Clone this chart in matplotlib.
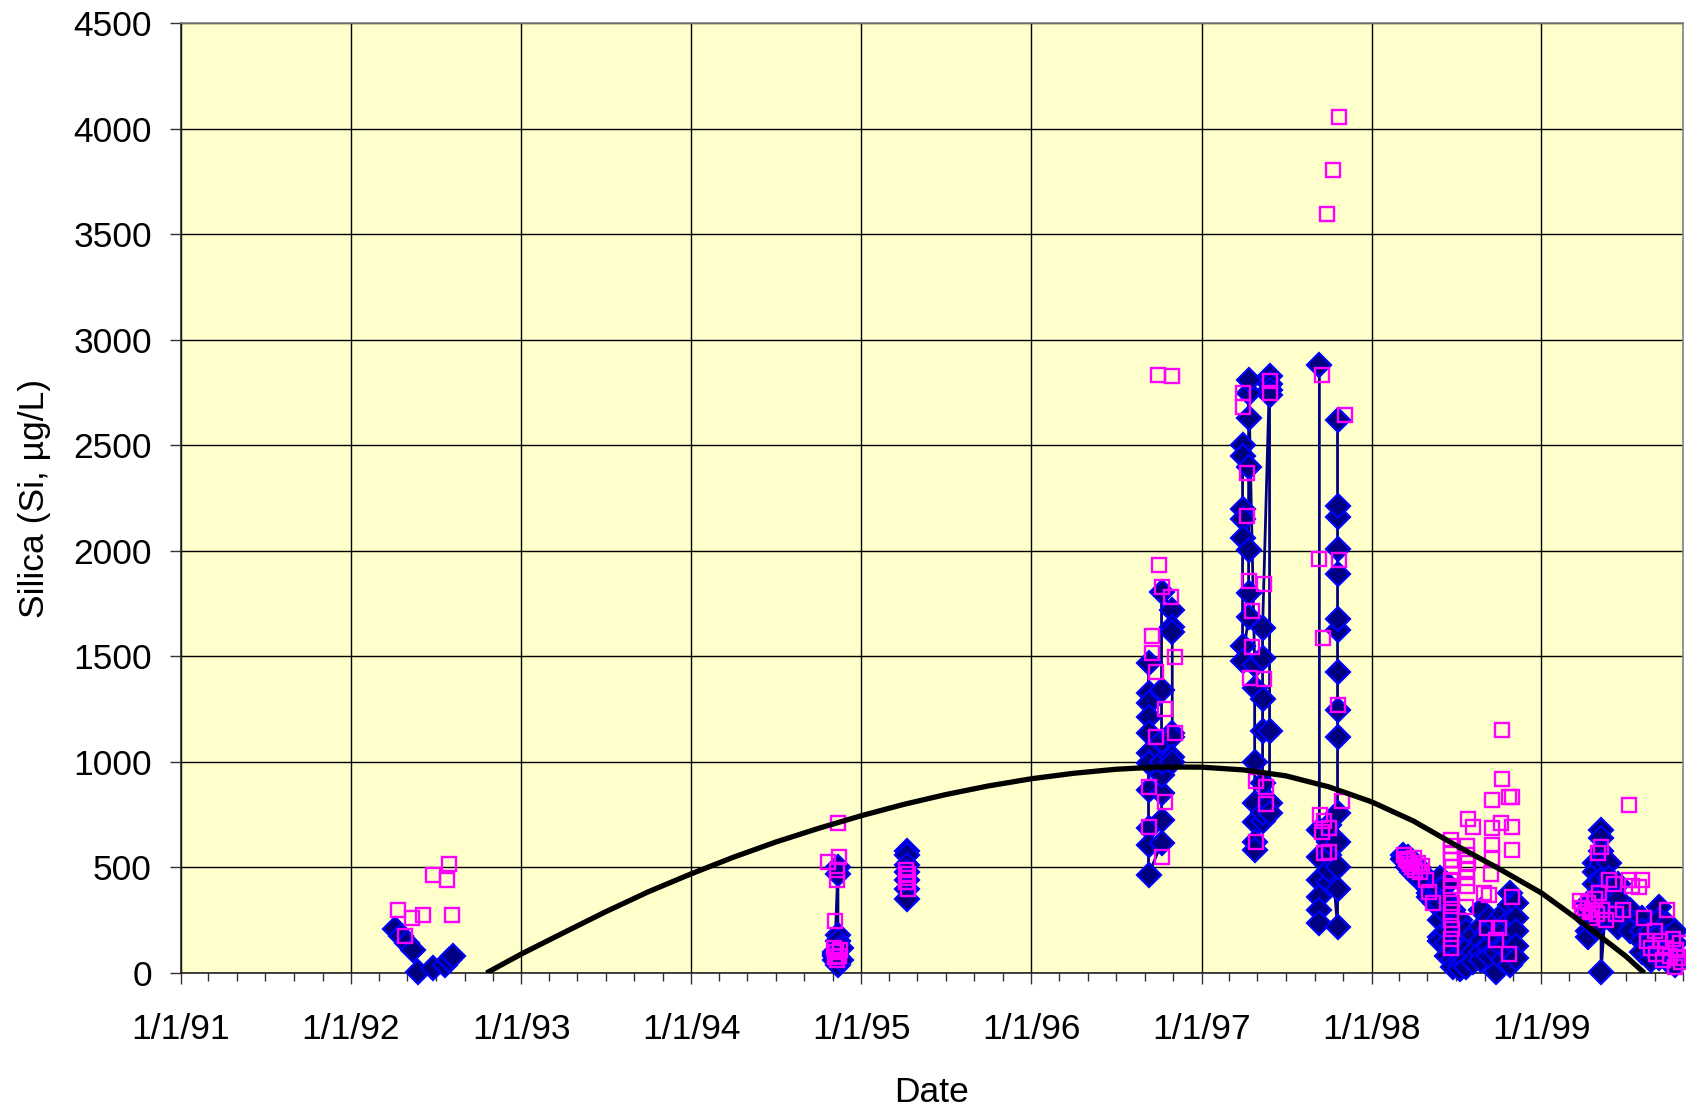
import matplotlib
matplotlib.use("Agg")
import matplotlib.pyplot as plt
import matplotlib.dates as mdates
from matplotlib.ticker import FuncFormatter, MultipleLocator
import pandas as pd

# --- data --------------------------------------------------------------
# blue diamond series: one entry per sampling date (several depths each);
# consecutive profiles inside the same group are joined by the line.
blue_profile_dates = [
    "1992-04-04", "1992-04-17", "1992-04-30", "1992-05-14", "1992-05-24",
    "1992-06-25", "1992-07-22", "1992-07-30", "1992-08-08",
    "1994-11-05", "1994-11-12", "1994-11-18",
    "1995-04-10",
    "1996-09-09", "1996-10-07", "1996-10-30",
    "1997-03-30", "1997-04-12", "1997-04-25", "1997-05-12", "1997-05-27",
    "1997-09-11", "1997-10-02", "1997-10-20",
    "1998-03-10", "1998-03-20", "1998-03-30", "1998-04-10", "1998-04-22",
    "1998-05-05", "1998-05-18",
    "1998-05-28", "1998-06-12", "1998-06-26", "1998-07-10", "1998-07-24",
    "1998-08-07",
    "1998-08-25", "1998-09-10", "1998-09-25", "1998-10-10", "1998-10-25",
    "1998-11-08",
    "1999-04-10", "1999-04-26", "1999-05-09", "1999-05-25", "1999-06-15",
    "1999-07-10", "1999-08-05", "1999-08-25", "1999-09-10", "1999-09-28",
    "1999-10-15",
]
blue_profile_vals = [
    [210], [175], [140], [110], [5],
    [22], [38], [60], [82],
    [100, 80, 60, 90], [500, 470, 180, 150, 110, 70, 40], [120, 60],
    [580, 560, 510, 480, 440, 400, 350],
    [1468, 1326, 1279, 1213, 1137, 1042, 995, 867, 687, 606, 464],
    [616, 725, 853, 938, 1000, 1100, 1341, 1805],
    [1720, 1639, 1615, 1137, 1118, 1023, 1000],
    [2500, 2450, 2200, 2150, 2060, 1550, 1480],
    [1687, 1800, 2004, 2397, 2629, 2747, 2810],
    [1460, 1350, 1000, 805, 715, 620, 583],
    [720, 758, 900, 1146, 1300, 1492, 1634],
    [2830, 2790, 2760, 2740, 1146, 805, 760],
    [2880, 677, 550, 441, 360, 300, 237],
    [430, 490, 560, 620, 700],
    [219, 400, 500, 620, 760, 1119, 1246, 1424, 1627, 1678, 1891, 2008,
     2161, 2212, 2619],
    [560, 540], [550, 520, 500], [530, 510, 480], [500, 470, 450],
    [470, 430], [420, 380, 360], [400, 350, 330],
    [450, 400, 330, 250, 170, 150], [420, 350, 280, 200, 140, 80],
    [300, 220, 120, 60, 30], [250, 150, 90, 40, 20], [200, 110, 60, 30],
    [180, 100, 50],
    [300, 220, 150, 100, 60], [260, 200, 130, 80], [240, 170, 100, 5],
    [280, 200, 120, 60], [380, 320, 250, 180, 100, 40],
    [330, 260, 200, 130, 70],
    [330, 300, 250, 200, 170], [521, 480, 420, 350, 280, 220],
    [677, 640, 580, 520, 440, 380, 300, 5], [520, 450, 400, 330, 260],
    [420, 350, 280, 220], [300, 250, 200], [260, 200, 150, 100],
    [200, 150, 90, 60], [313, 250, 180, 120, 70], [230, 170, 110, 60],
    [200, 140, 80, 40],
]
blue_profile_group = (
    [1] * 9 + [2] * 3 + [3] + [4] * 3 + [5] * 5 + [6] * 3
    + [7] * 19 + [8] * 11
)

# magenta open squares
magenta_dates = [
    "1992-04-10", "1992-04-26", "1992-05-11", "1992-06-04", "1992-06-25",
    "1992-07-25", "1992-07-30", "1992-08-05",
    "1994-10-22", "1994-11-14", "1994-11-10", "1994-11-10", "1994-11-12",
    "1994-11-06", "1994-11-04", "1994-11-08", "1994-11-14", "1994-11-10",
    "1994-11-16", "1994-11-06",
    "1995-04-08", "1995-04-12", "1995-04-10", "1995-04-08", "1995-04-12",
    "1996-10-02", "1996-10-07", "1996-10-28", "1996-09-16", "1996-09-16",
    "1996-09-25", "1996-11-05", "1996-10-14", "1996-09-25", "1996-11-05",
    "1996-09-09", "1996-10-14", "1996-09-09", "1996-10-07", "1996-09-29",
    "1996-10-29",
    "1997-04-01", "1997-04-01", "1997-05-27", "1997-05-27", "1997-04-08",
    "1997-04-08", "1997-04-13", "1997-05-14", "1997-04-20", "1997-04-20",
    "1997-04-14", "1997-05-14", "1997-04-28", "1997-05-20", "1997-05-20",
    "1997-04-28",
    "1997-09-27", "1997-10-11", "1997-10-24", "1997-09-16", "1997-09-10",
    "1997-09-18", "1997-10-24", "1997-10-22", "1997-11-04", "1997-10-30",
    "1997-09-12", "1997-09-20", "1997-09-16", "1997-09-20", "1997-10-02",
    "1997-10-02",
    "1998-03-12", "1998-03-15", "1998-03-20", "1998-03-25", "1998-03-28",
    "1998-04-02", "1998-04-05", "1998-04-10", "1998-04-15", "1998-04-20",
    "1998-04-28", "1998-05-05", "1998-05-12",
    "1998-06-21", "1998-06-21", "1998-06-21", "1998-06-21", "1998-06-23",
    "1998-06-23", "1998-06-21", "1998-06-21", "1998-06-21", "1998-06-23",
    "1998-06-21", "1998-06-21", "1998-06-23", "1998-06-21", "1998-06-21",
    "1998-07-25", "1998-07-25", "1998-07-27", "1998-07-25", "1998-07-25",
    "1998-07-24", "1998-07-26", "1998-07-28", "1998-08-07", "1998-08-31",
    "1998-09-07", "1998-09-10", "1998-09-14", "1998-09-17", "1998-09-17",
    "1998-09-17", "1998-09-17", "1998-09-26", "1998-10-02", "1998-10-07",
    "1998-10-09", "1998-10-09", "1998-10-24", "1998-10-24", "1998-10-30",
    "1998-10-30", "1998-10-30", "1998-10-30",
    "1999-03-25", "1999-03-30", "1999-04-05", "1999-04-10", "1999-04-15",
    "1999-04-20", "1999-04-25", "1999-04-30", "1999-05-03", "1999-05-09",
    "1999-05-05", "1999-05-12", "1999-05-20", "1999-05-27", "1999-06-05",
    "1999-06-10", "1999-06-25", "1999-07-08", "1999-07-08", "1999-07-15",
    "1999-07-30", "1999-08-05", "1999-08-10", "1999-08-15", "1999-08-25",
    "1999-09-01", "1999-09-05", "1999-09-12", "1999-09-18", "1999-09-28",
    "1999-09-25", "1999-10-05", "1999-10-10", "1999-10-15", "1999-10-18",
    "1999-10-22", "1999-10-25", "1999-10-28",
]
magenta_vals = [
    298, 175, 260, 275, 464, 440, 516, 275,
    525, 550, 490, 440, 710, 245, 120, 100, 80, 60, 110, 75,
    490, 470, 450, 430, 400,
    1933, 1829, 1781, 1596, 1516, 1426, 1497, 1251, 1118, 1137, 881, 810,
    692, 550, 2832, 2827,
    2747, 2681, 2804, 2747, 2368, 2165, 1857, 1843, 1715, 1544, 1397, 1393,
    909, 881, 800, 620,
    3595, 3803, 4053, 2833, 1961, 1587, 1958, 1271, 2644, 813, 748, 720,
    668, 568, 686, 574,
    560, 540, 530, 515, 500, 545, 490, 520, 480, 505, 440, 385, 330,
    630, 600, 570, 535, 500, 470, 440, 410, 370, 330, 290, 250, 210, 160,
    120,
    600, 560, 520, 490, 450, 312, 410, 730, 692, 379,
    213, 370, 469, 820, 687, 606, 545, 156, 213, 711,
    1151, 919, 834, 90, 834, 692, 583, 360,
    340, 310, 290, 330, 260, 300, 350, 280, 568, 597,
    380, 300, 250, 441, 420, 280, 300, 796, 441, 410,
    407, 440, 260, 150, 120, 200, 90, 150, 60, 298,
    120, 80, 160, 30, 110, 70, 140, 50,
]

# black trend line
trend_dates = [
    "1992-10-18", "1993-01-01", "1993-04-01", "1993-07-01", "1993-10-01",
    "1994-01-01", "1994-04-01", "1994-07-01", "1994-10-01", "1995-01-01",
    "1995-04-01", "1995-07-01", "1995-10-01", "1996-01-01", "1996-04-01",
    "1996-07-01", "1996-10-01", "1997-01-01", "1997-04-01", "1997-07-01",
    "1997-10-01", "1998-01-01", "1998-04-01", "1998-07-01", "1998-10-01",
    "1999-01-01", "1999-04-01", "1999-07-01", "1999-08-10",
]
trend_vals = [
    0, 90, 190, 290, 385, 470, 548, 620, 685, 745, 798, 845, 886, 920, 946,
    965, 976, 975, 962, 934, 882, 811, 720, 605, 495, 379, 235, 80, 0,
]

FONT = ["Liberation Sans", "DejaVu Sans"]
plt.rcParams["font.family"] = FONT

fig = plt.figure(figsize=(16.86, 11.08), dpi=100)
fig.patch.set_facecolor("white")
ax = fig.add_axes([181 / 1686, 135 / 1108, (1683 - 181) / 1686, (973 - 23) / 1108])
ax.set_facecolor("#FFFFCC")

# blue series, one polyline per group
groups = {}
for d, vals, g in zip(blue_profile_dates, blue_profile_vals, blue_profile_group):
    xs, ys = groups.setdefault(g, ([], []))
    for v in vals:
        xs.append(pd.Timestamp(d))
        ys.append(v)
for g, (xs, ys) in groups.items():
    ax.plot(xs, ys, color="#000080", linewidth=2.0, marker="D",
            markersize=12.5, markerfacecolor="#000080",
            markeredgecolor="#0000FF", markeredgewidth=1.6,
            clip_on=False, zorder=3)

ax.plot(pd.to_datetime(magenta_dates), magenta_vals, linestyle="none",
        marker="s", markersize=10.5, markerfacecolor="none",
        markeredgecolor="#FF00FF", markeredgewidth=1.7, clip_on=False,
        zorder=4)

ax.plot(pd.to_datetime(trend_dates), trend_vals, color="black",
        linewidth=3.8, solid_capstyle="butt", solid_joinstyle="round",
        zorder=5)

ax.set_xlim(pd.Timestamp("1991-01-01"), pd.Timestamp("1999-11-01"))
ax.set_ylim(0, 4500)

ax.xaxis.set_major_locator(mdates.YearLocator())
ax.xaxis.set_minor_locator(mdates.MonthLocator(bymonth=[3, 5, 7, 9, 11]))
ax.xaxis.set_major_formatter(FuncFormatter(
    lambda x, pos: "{0.month}/{0.day}/{1:02d}".format(
        mdates.num2date(x), mdates.num2date(x).year % 100)))
ax.yaxis.set_major_locator(MultipleLocator(500))

ax.grid(True, which="major", color="black", linewidth=1.0)
ax.set_axisbelow(True)

ax.tick_params(axis="both", which="major", direction="out", length=8,
               width=1.0, color="#333333", labelsize=25.5)
ax.tick_params(axis="x", which="major", pad=21)
ax.tick_params(axis="y", which="major", pad=13)
ax.tick_params(axis="x", which="minor", direction="out", length=6,
               width=1.0, color="#333333")

for side in ("left", "bottom"):
    ax.spines[side].set_color("#222222")
    ax.spines[side].set_linewidth(1.2)
for side in ("top", "right"):
    ax.spines[side].set_color("#808080")
    ax.spines[side].set_linewidth(1.2)

ax.set_xlabel("Date", fontsize=25.5, va="center")
ax.xaxis.set_label_coords(0.5, (973 - 1092) / 950)
ax.set_ylabel("Silica (Si, \u00b5g/L)", fontsize=25.5, labelpad=16)

fig.savefig("out.png", dpi=100, facecolor="white")
plt.close(fig)
